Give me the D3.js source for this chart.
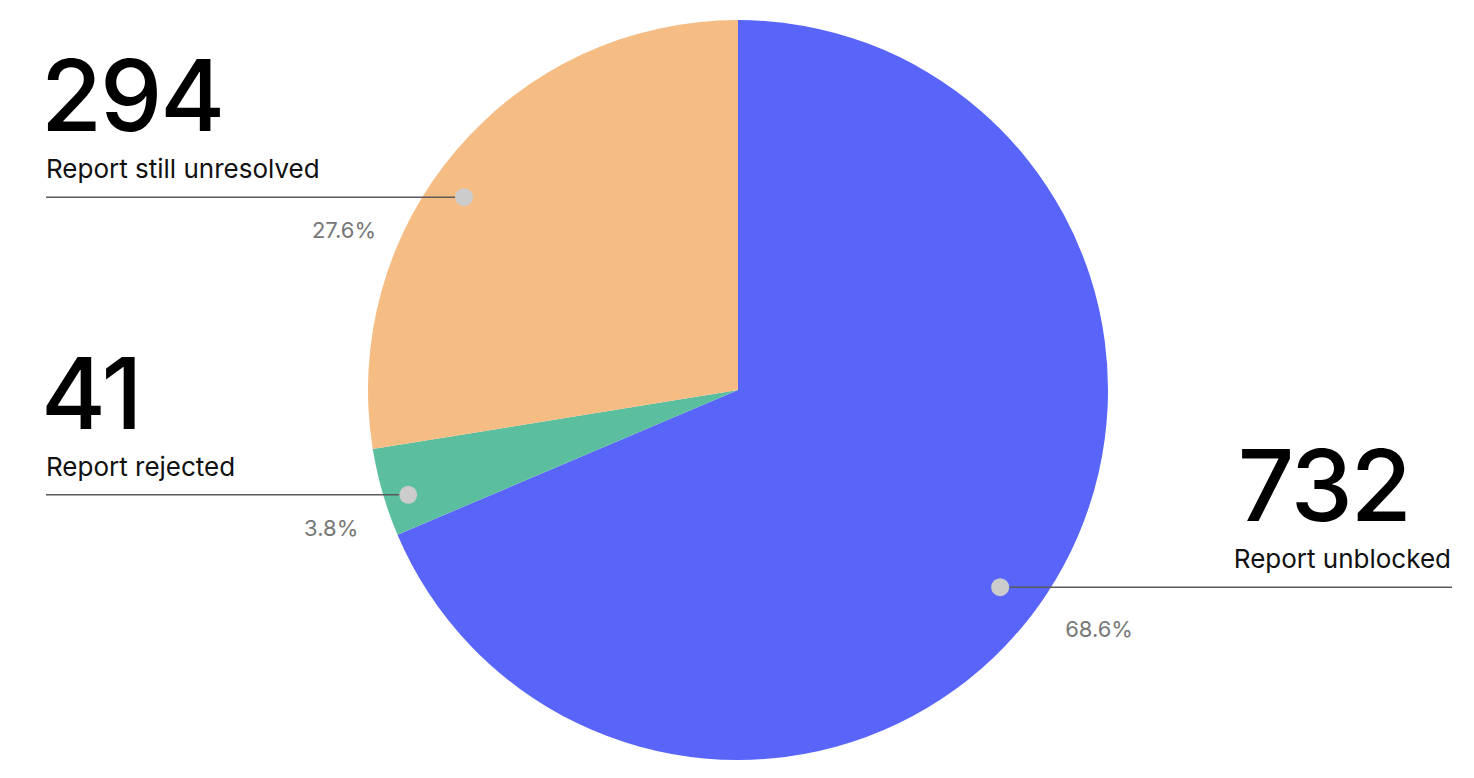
<!DOCTYPE html>
<html>
<head>
<meta charset="utf-8">
<script src="https://cdn.jsdelivr.net/npm/d3@7"></script>
<style>
  body { margin: 0; background: #fff; }
  svg { display: block; font-family: Inter, "Noto Sans", sans-serif; }
</style>
</head>
<body>
<svg width="1474" height="778"></svg>
<script>
// data
const labels = ["Report unblocked", "Report rejected", "Report still unresolved"];
const counts = [732, 41, 294];
const percents = ["68.6%", "3.8%", "27.6%"];
const colors = ["#5865f8", "#5bbe9f", "#f5bc84"];

const svg = d3.select("svg");
const cx = 738, cy = 390, radius = 370;

// where the callout dot sits inside each slice (fraction of slice angle, radius)
const dotFrac = [0.514, 0.39, 0.447];
const dotRad = [328, 346, 335];
// percent label offsets relative to the dot
const pctOffset = [[65, 50], [-50, 41], [-88, 41]];

const pie = d3.pie().sort(null).value(function(d){ return d; });
const arcs = pie(counts);
const arc = d3.arc().innerRadius(0).outerRadius(radius);

const g = svg.append("g").attr("transform", "translate(" + cx + "," + cy + ")");

g.selectAll("path.slice")
    .data(arcs)
    .enter().append("path")
    .attr("class", "slice")
    .attr("d", arc)
    .style("fill", function(d, i){ return colors[i]; });

arcs.forEach(function(d, i){
    const a = d.startAngle + dotFrac[i] * (d.endAngle - d.startAngle);
    const dx = cx + Math.sin(a) * dotRad[i];
    const dy = cy - Math.cos(a) * dotRad[i];
    const right = dx > cx;
    const lineEnd = right ? 1452 : 46;

    svg.append("line")
        .attr("x1", dx).attr("x2", lineEnd)
        .attr("y1", dy).attr("y2", dy)
        .style("stroke", "#5a5a5a")
        .style("stroke-width", 1.5);

    svg.append("circle")
        .attr("cx", dx).attr("cy", dy).attr("r", 9)
        .style("fill", "#cccccc");

    const name = svg.append("text")
        .attr("y", dy - 19)
        .style("font-size", "26px")
        .style("fill", "#111")
        .text(labels[i]);
    const num = svg.append("text")
        .attr("y", dy - 66)
        .style("font-size", "99px")
        .style("font-weight", 500)
        .style("letter-spacing", "-2px")
        .style("fill", "#000")
        .text(counts[i]);

    let tx = 46;
    if(right){
        tx = lineEnd - name.node().getComputedTextLength() - 1;
    }
    name.attr("x", tx);
    num.attr("x", right ? tx + 4 : tx - 5);

    svg.append("text")
        .attr("x", dx + pctOffset[i][0])
        .attr("y", dy + pctOffset[i][1])
        .attr("text-anchor", right ? "start" : "end")
        .style("font-size", "22px")
        .style("fill", "#777")
        .text(percents[i]);
});
</script>
</body>
</html>
